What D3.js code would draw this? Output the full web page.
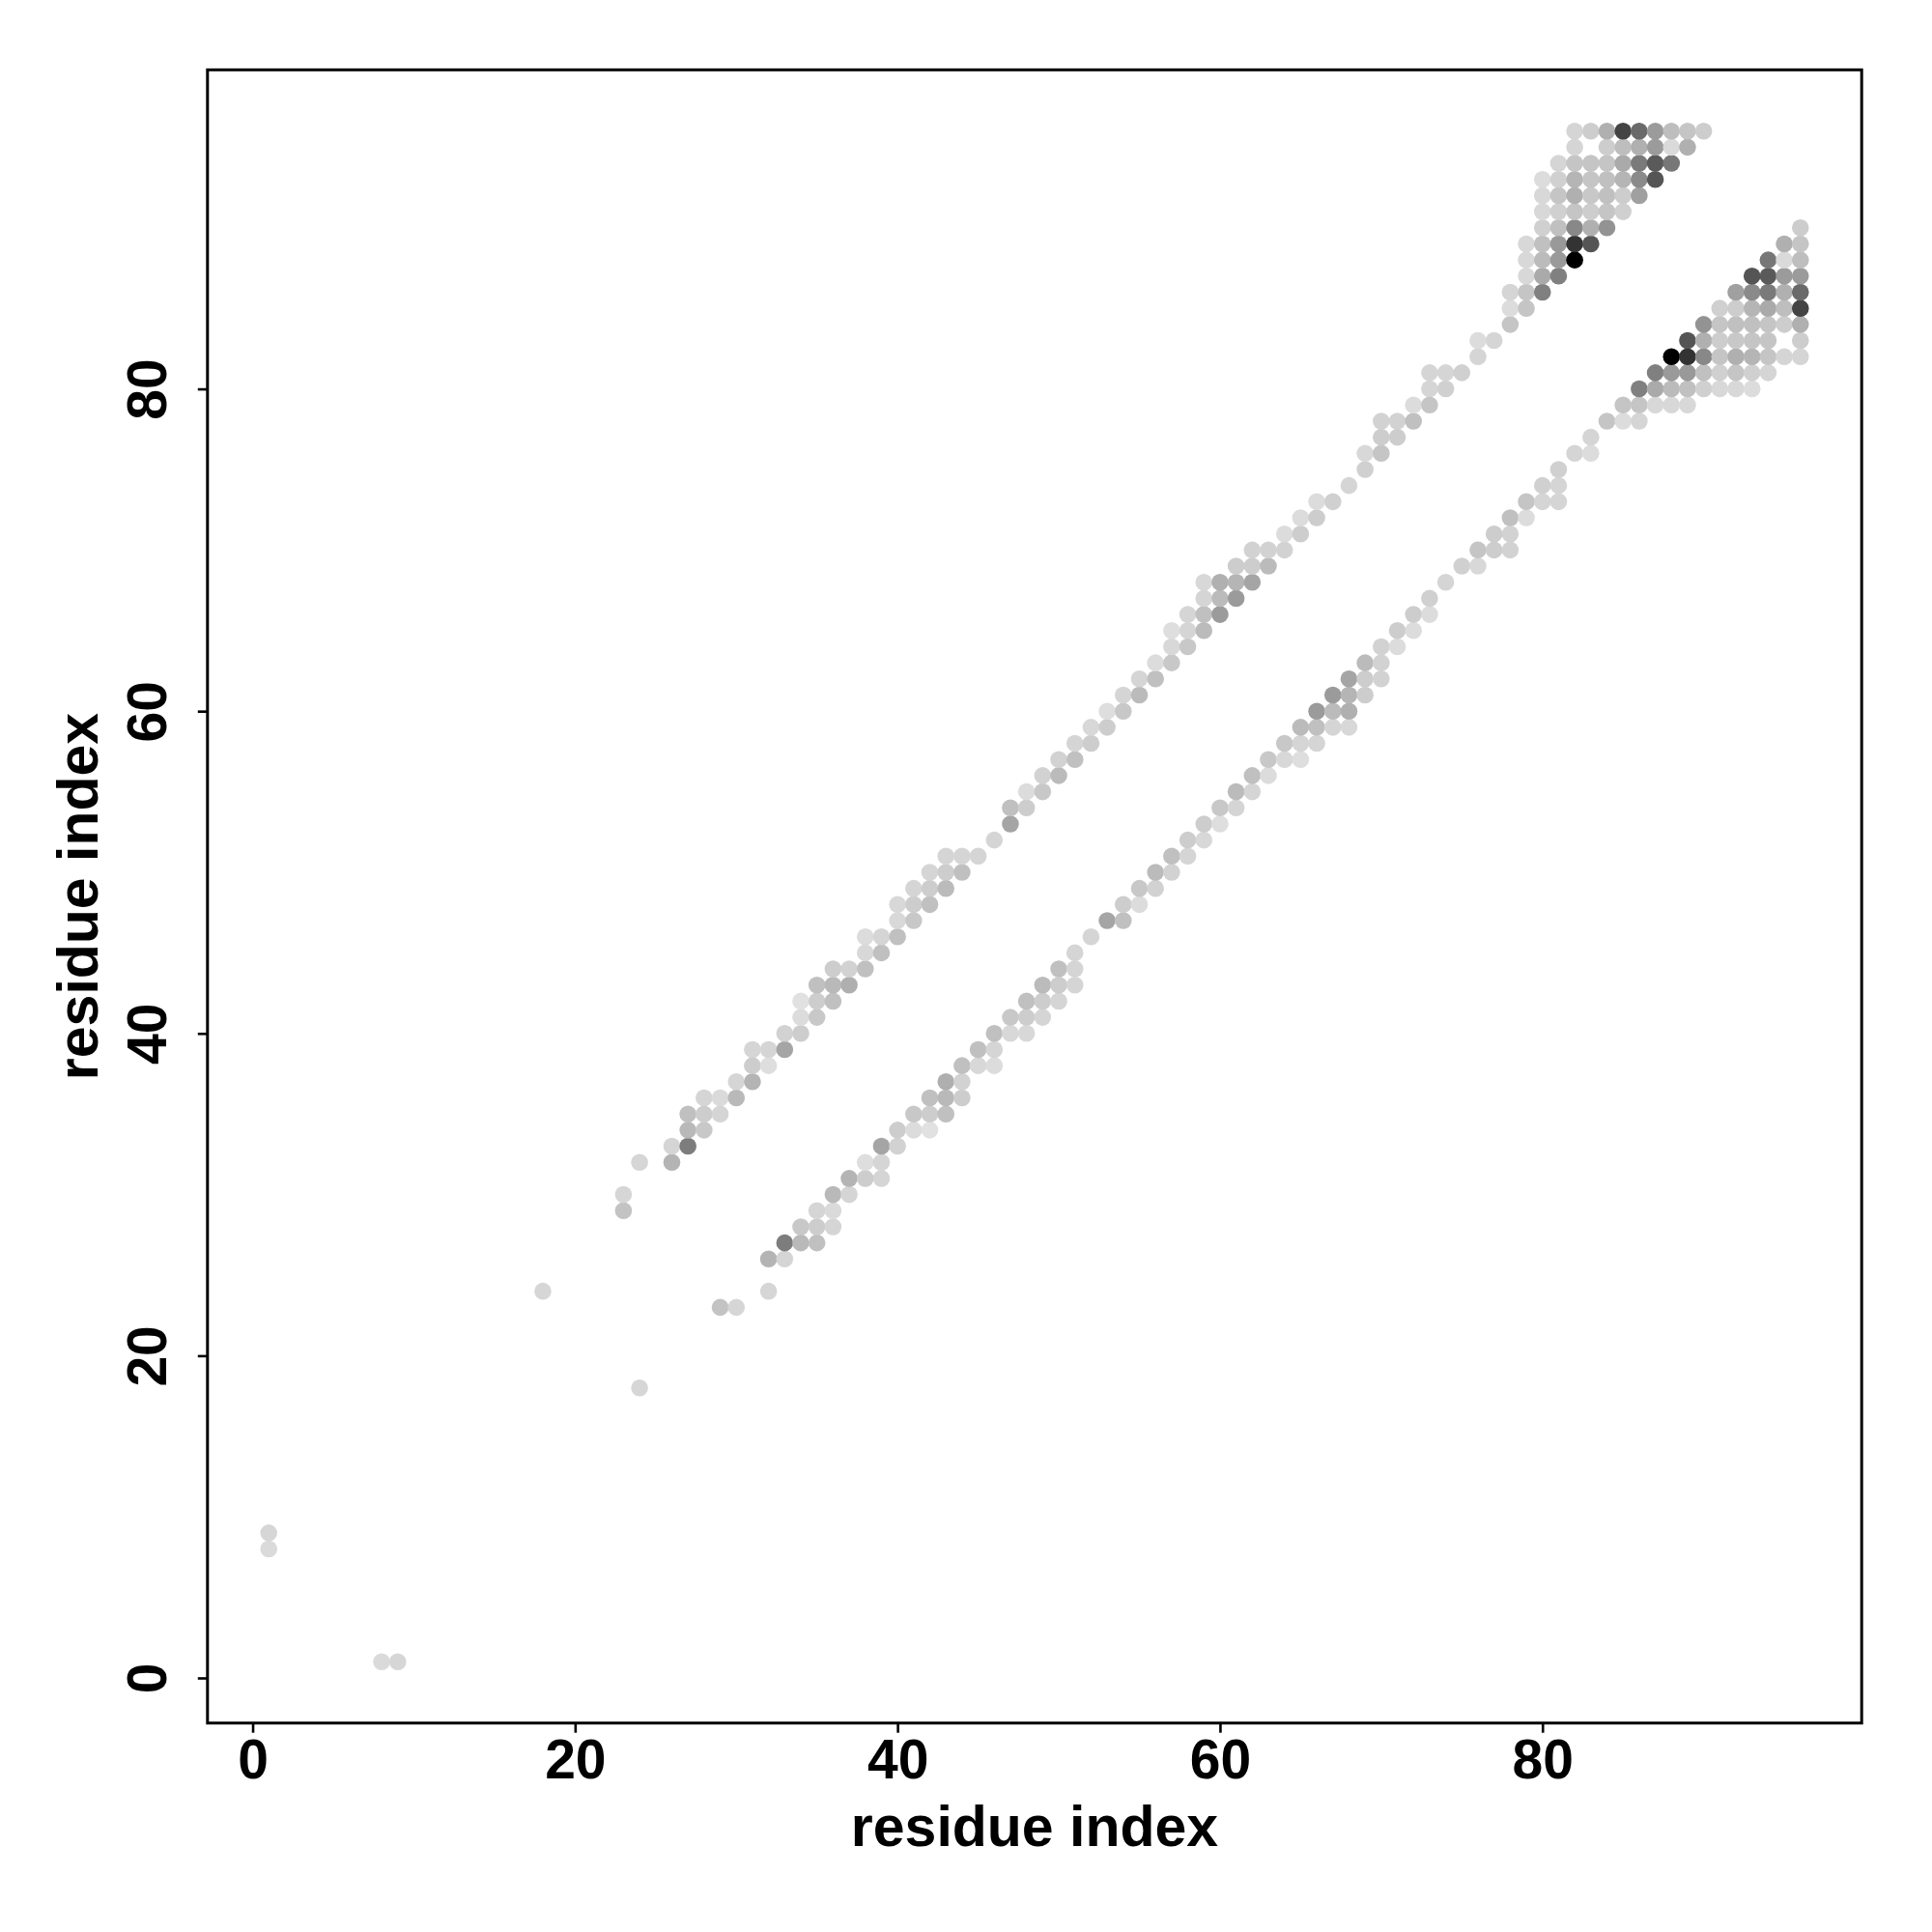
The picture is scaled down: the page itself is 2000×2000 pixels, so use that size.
<!DOCTYPE html>
<html>
<head>
<meta charset="utf-8">
<script src="https://cdn.jsdelivr.net/npm/d3@7"></script>
<style>
  html, body { margin: 0; padding: 0; background: #fff; }
  svg { display: block; }
</style>
</head>
<body>
<svg id="chart" width="2000" height="2000"></svg>
<script>
// Contact map (symmetric). Upper-triangle contacts (i < j) with grey level 0 (black) .. 255 (white).
const contactI = [
  1, 1, 18, 23, 23, 24,
  26, 26, 27, 27, 27, 28, 28, 28, 29, 29, 30, 30, 31, 31, 31, 32, 32, 33, 33,
  34, 34, 34, 35, 35, 35, 36, 36, 36, 37, 37, 38, 38, 38, 39, 39, 40, 40, 40,
  41, 41, 41, 42, 42, 42, 43, 43, 43, 44, 44, 45,
  46, 47, 47, 48, 48, 49, 49, 50, 50, 51, 51, 52, 52, 53, 53, 54, 54, 55, 55,
  56, 56, 57, 57, 57, 58, 58, 58, 59, 59, 59, 59, 60, 60, 60, 61, 61, 61, 62, 62, 62,
  63, 63, 64, 64, 65, 65, 66, 66, 67, 68, 69, 69, 70, 70, 70, 71, 71, 72, 72, 73, 73, 73,
  74, 74, 75, 76, 76, 77,
  78, 78, 78, 79, 79, 79, 79, 79,
  80, 80, 80, 80, 80, 80, 80, 80,
  81, 81, 81, 81, 81, 81, 81, 81,
  82, 82, 82, 82, 82, 82, 82, 82, 82,
  83, 83, 83, 83, 83, 83, 83,
  84, 84, 84, 84, 84, 84, 84,
  85, 85, 85, 85, 85, 85,
  86, 86, 86, 86, 86,
  87, 87, 87, 87,
  88, 88, 88, 89, 89, 90
];
const contactJ = [
  8, 9, 24, 29, 30, 32,
  32, 33, 33, 34, 35, 34, 35, 36, 35, 36, 36, 37, 37, 38, 39, 38, 39, 39, 40,
  40, 41, 42, 41, 42, 43, 42, 43, 44, 43, 44, 44, 45, 46, 45, 46, 46, 47, 48,
  47, 48, 49, 48, 49, 50, 49, 50, 51, 50, 51, 51,
  52, 53, 54, 54, 55, 55, 56, 56, 57, 57, 58, 58, 59, 59, 60, 60, 61, 61, 62,
  62, 63, 63, 64, 65, 64, 65, 66, 65, 66, 67, 68, 66, 67, 68, 67, 68, 69, 68, 69, 70,
  69, 70, 70, 71, 71, 72, 72, 73, 73, 74, 75, 76, 76, 77, 78, 77, 78, 78, 79, 79, 80, 81,
  80, 81, 81, 82, 83, 83,
  84, 85, 86, 85, 86, 87, 88, 89,
  86, 87, 88, 89, 90, 91, 92, 93,
  87, 88, 89, 90, 91, 92, 93, 94,
  88, 89, 90, 91, 92, 93, 94, 95, 96,
  89, 90, 91, 92, 93, 94, 96,
  90, 91, 92, 93, 94, 95, 96,
  91, 92, 93, 94, 95, 96,
  92, 93, 94, 95, 96,
  93, 94, 95, 96,
  94, 95, 96, 95, 96, 96
];
const contactGray = [
  218, 214, 214, 195, 214, 214,
  180, 213, 125, 185, 192, 200, 205, 213, 213, 218, 185, 213, 180, 205, 213, 222, 213, 165, 210,
  205, 220, 225, 200, 205, 192, 192, 185, 205, 175, 210, 192, 216, 220, 192, 213, 192, 216, 216,
  200, 205, 213, 192, 205, 213, 187, 205, 213, 192, 213, 213,
  213, 165, 192, 205, 220, 200, 210, 187, 210, 192, 213, 205, 216, 205, 222, 200, 213, 187, 213,
  192, 220, 200, 216, 222, 200, 213, 213, 187, 192, 213, 216, 155, 187, 176, 155, 181, 205, 165, 205, 210,
  187, 210, 210, 220, 205, 220, 205, 220, 208, 213, 208, 216, 197, 205, 210, 205, 210, 192, 220, 197, 213, 213,
  208, 213, 208, 213, 220, 213,
  197, 220, 213, 197, 197, 216, 216, 216,
  128, 170, 187, 192, 208, 216, 216, 220,
  128, 154, 153, 192, 208, 197, 208, 213,
  0, 51, 136, 197, 176, 181, 197, 213, 213,
  85, 176, 205, 200, 197, 197, 205,
  147, 197, 192, 192, 197, 205, 176,
  208, 205, 181, 170, 190, 68,
  160, 138, 122, 176, 106,
  85, 90, 155, 155,
  119, 218, 190, 176, 197, 205
];
const xTicks = [0, 20, 40, 60, 80];
const yTicks = [0, 20, 40, 60, 80];
const xTitle = "residue index";
const yTitle = "residue index";

// Build symmetric point list
const points = [];
contactI.forEach((i, k) => {
  const j = contactJ[k], g = contactGray[k];
  points.push({x: i, y: j, g: g});
  points.push({x: j, y: i, g: g});
});

const svg = d3.select("#chart");
const plotL = 214.8, plotR = 1927.2, plotT = 72.3, plotB = 1783.7;
const xs = d3.scaleLinear().domain([-2.8, 99.8]).range([plotL, plotR]);
const ys = d3.scaleLinear().domain([-2.8, 99.8]).range([plotB, plotT]);
const grey = d3.scaleLinear().domain([0, 255]).range(["#000000", "#ffffff"]);

svg.append("rect").attr("x", 0).attr("y", 0).attr("width", 2000).attr("height", 2000).attr("fill", "#fff");

svg.append("g").selectAll("circle").data(points).join("circle")
  .attr("cx", d => xs(d.x))
  .attr("cy", d => ys(d.y))
  .attr("r", 8.8)
  .attr("fill", d => grey(d.g));

const font = "'Liberation Sans', Arial, Helvetica, sans-serif";

const xAxis = svg.append("g").attr("transform", `translate(0,${plotB})`)
  .call(d3.axisBottom(xs).tickValues(xTicks).tickSize(10).tickFormat(d3.format("d")));
xAxis.select(".domain").remove();
xAxis.selectAll(".tick line").attr("stroke", "#000").attr("stroke-width", 2.6);
xAxis.selectAll(".tick text")
  .attr("y", 57).attr("dy", null)
  .attr("fill", "#000")
  .style("font-family", font).style("font-size", "57px").style("font-weight", "bold");

const yAxis = svg.append("g").attr("transform", `translate(${plotL},0)`)
  .call(d3.axisLeft(ys).tickValues(yTicks).tickSize(10).tickFormat(d3.format("d")));
yAxis.select(".domain").remove();
yAxis.selectAll(".tick line").attr("stroke", "#000").attr("stroke-width", 2.6);
yAxis.selectAll(".tick text")
  .attr("x", 0).attr("y", -43).attr("dy", null)
  .attr("transform", "rotate(-90)")
  .attr("text-anchor", "middle")
  .attr("fill", "#000")
  .style("font-family", font).style("font-size", "57px").style("font-weight", "bold");

svg.append("rect")
  .attr("x", plotL).attr("y", plotT)
  .attr("width", plotR - plotL).attr("height", plotB - plotT)
  .attr("fill", "none").attr("stroke", "#000").attr("stroke-width", 3);

svg.append("text")
  .attr("x", (plotL + plotR) / 2).attr("y", 1911)
  .attr("text-anchor", "middle")
  .style("font-family", font).style("font-size", "59px").style("font-weight", "bold")
  .text(xTitle);

svg.append("text")
  .attr("transform", `translate(101,${(plotT + plotB) / 2}) rotate(-90)`)
  .attr("text-anchor", "middle")
  .style("font-family", font).style("font-size", "59px").style("font-weight", "bold")
  .text(yTitle);
</script>
</body>
</html>
